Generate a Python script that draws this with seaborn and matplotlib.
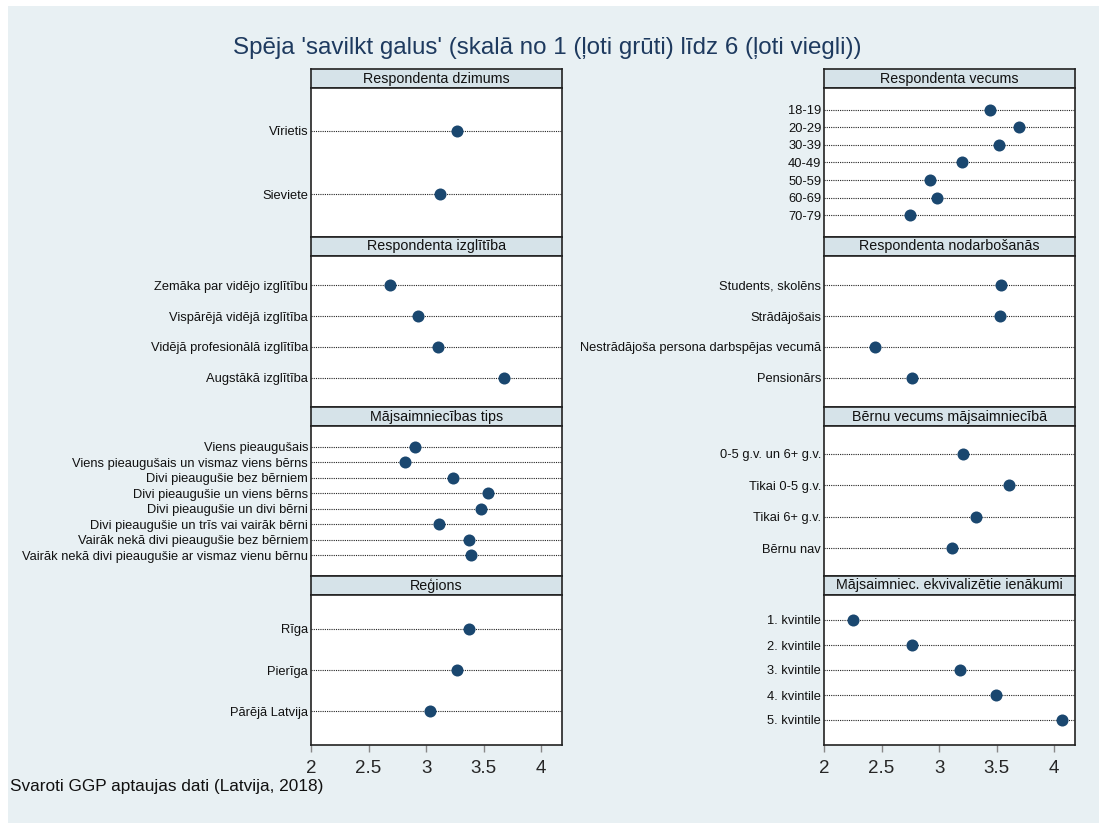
import numpy as np
import pandas as pd
import matplotlib
matplotlib.use("Agg")
import matplotlib.pyplot as plt
import seaborn as sns

sns.set_theme(style="white")
plt.rcParams['font.family'] = ['Liberation Sans', 'DejaVu Sans']

# data
dzimums_lab = ["Vīrietis", "Sieviete"]
dzimums_val = [3.27, 3.12]

izglitiba_lab = ["Zemāka par vidējo izglītību", "Vispārējā vidējā izglītība",
                 "Vidējā profesionālā izglītība", "Augstākā izglītība"]
izglitiba_val = [2.69, 2.93, 3.10, 3.68]

tips_lab = ["Viens pieaugušais", "Viens pieaugušais un vismaz viens bērns",
            "Divi pieaugušie bez bērniem", "Divi pieaugušie un viens bērns",
            "Divi pieaugušie un divi bērni", "Divi pieaugušie un trīs vai vairāk bērni",
            "Vairāk nekā divi pieaugušie bez bērniem",
            "Vairāk nekā divi pieaugušie ar vismaz vienu bērnu"]
tips_val = [2.90, 2.82, 3.23, 3.54, 3.48, 3.11, 3.37, 3.39]

regions_lab = ["Rīga", "Pierīga", "Pārējā Latvija"]
regions_val = [3.37, 3.27, 3.03]

vecums_lab = ["18-19", "20-29", "30-39", "40-49", "50-59", "60-69", "70-79"]
vecums_val = [3.44, 3.69, 3.52, 3.20, 2.92, 2.98, 2.75]

nodarb_lab = ["Students, skolēns", "Strādājošais",
              "Nestrādājoša persona darbspējas vecumā", "Pensionārs"]
nodarb_val = [3.54, 3.53, 2.44, 2.76]

bernu_lab = ["0-5 g.v. un 6+ g.v.", "Tikai 0-5 g.v.", "Tikai 6+ g.v.", "Bērnu nav"]
bernu_val = [3.21, 3.61, 3.32, 3.11]

ienak_lab = ["1. kvintile", "2. kvintile", "3. kvintile", "4. kvintile", "5. kvintile"]
ienak_val = [2.25, 2.76, 3.18, 3.49, 4.07]

panels = [
    # (column, row, title, labels, values, pad)
    (0, 0, "Respondenta dzimums", dzimums_lab, dzimums_val, 0.68),
    (0, 1, "Respondenta izglītība", izglitiba_lab, izglitiba_val, 0.95),
    (0, 2, "Mājsaimniecības tips", tips_lab, tips_val, 1.32),
    (0, 3, "Reģions", regions_lab, regions_val, 0.81),
    (1, 0, "Respondenta vecums", vecums_lab, vecums_val, 1.22),
    (1, 1, "Respondenta nodarbošanās", nodarb_lab, nodarb_val, 0.95),
    (1, 2, "Bērnu vecums mājsaimniecībā", bernu_lab, bernu_val, 0.88),
    (1, 3, "Mājsaimniec. ekvivalizētie ienākumi", ienak_lab, ienak_val, 1.0),
]

W, H = 1099, 823
bg = "#e8f0f3"
strip = "#d6e3e9"
dot = "#1a476f"

fig = plt.figure(figsize=(W / 100, H / 100), dpi=100, facecolor="white")
fig.patches.append(plt.Rectangle((8 / W, 0), 1, 1 - 6 / H, transform=fig.transFigure,
                                 facecolor=bg, edgecolor="none", zorder=-10))

col_x = [311, 824]
col_w = 251
rows = [(69, 88, 237), (237, 256, 407), (407, 426, 576), (576, 595, 745)]


def box(x0, y0, x1, y1):
    return [x0 / W, 1 - y1 / H, (x1 - x0) / W, (y1 - y0) / H]


for col, row, title, labs, vals, pad in panels:
    top, mid, bot = rows[row]
    x0 = col_x[col]
    hax = fig.add_axes(box(x0, top, x0 + col_w, mid))
    hax.set_facecolor(strip)
    hax.set_xticks([])
    hax.set_yticks([])
    for s in hax.spines.values():
        s.set_color("#222222")
        s.set_linewidth(1.2)
    hax.text(0.5, 0.5, title, ha="center", va="center", fontsize=10.3,
             color="#111111", transform=hax.transAxes)

    ax = fig.add_axes(box(x0, mid, x0 + col_w, bot))
    ax.set_facecolor("white")
    df = pd.DataFrame({"val": vals, "pos": np.arange(len(labs))})
    ax.set_yticks(df["pos"])
    ax.set_yticklabels(labs, fontsize=9.3, color="#111111")
    ax.yaxis.grid(True, linestyle=(0, (1, 1)), color="#222222", linewidth=0.8)
    ax.xaxis.grid(False)
    ax.set_axisbelow(True)
    sns.scatterplot(data=df, x="val", y="pos", ax=ax, s=75, color=dot,
                    edgecolor=dot, linewidth=0, zorder=3, clip_on=False)
    ax.set_xlim(2, 4.18)
    ax.set_ylim(len(labs) - 1 + pad, -pad)
    ax.set_xlabel("")
    ax.set_ylabel("")
    ax.tick_params(axis="y", length=0, pad=2)
    for s in ax.spines.values():
        s.set_color("#222222")
        s.set_linewidth(1.2)
    if row == 3:
        ax.set_xticks([2, 2.5, 3, 3.5, 4])
        ax.set_xticklabels(["2", "2.5", "3", "3.5", "4"])
        ax.tick_params(axis="x", length=5, width=1, color="#888888",
                       labelsize=13.5, pad=6, bottom=True)
    else:
        ax.set_xticks([])

fig.text(547 / W, 1 - 48 / H, "Spēja 'savilkt galus' (skalā no 1 (ļoti grūti) līdz 6 (ļoti viegli))",
         ha="center", va="center", fontsize=17.4, color="#1e3a5f")
fig.text(10 / W, 1 - 787 / H, "Svaroti GGP aptaujas dati (Latvija, 2018)",
         ha="left", va="center", fontsize=12.4, color="#111111")

fig.savefig("out.png", dpi=100, facecolor=fig.get_facecolor())
